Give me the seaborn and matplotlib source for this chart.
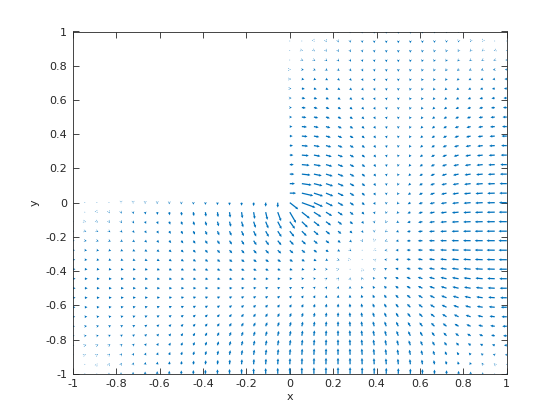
import numpy as np
import matplotlib
matplotlib.use("Agg")
import matplotlib.pyplot as plt
import seaborn as sns

# ---- data description -------------------------------------------------
# grid of arrow tails (37 x 37, spacing 1/18) on [-1, 1]^2
grid_min, grid_max, grid_n = -1.0, 1.0, 37
# field: gradient of the first eigenmode of the L-shaped membrane
# (upper-left quadrant removed), solved on a 2x finer grid
refine = 2
tick_values = [-1, -0.8, -0.6, -0.4, -0.2, 0, 0.2, 0.4, 0.6, 0.8, 1]
tick_labels = ["-1", "-0.8", "-0.6", "-0.4", "-0.2", "0", "0.2", "0.4", "0.6", "0.8", "1"]
x_label = "x"
y_label = "y"
arrow_color = "#0072BD"
autoscale_factor = 0.9

# ---- first eigenmode on the L-shaped domain (finite differences) ------
nf = (grid_n - 1) * refine + 1
xf = np.linspace(grid_min, grid_max, nf)
XF, YF = np.meshgrid(xf, xf)
inside = (np.abs(XF) < 1 - 1e-9) & (np.abs(YF) < 1 - 1e-9) & ~((XF < 1e-9) & (YF > -1e-9))
idx = -np.ones(XF.shape, dtype=int)
idx[inside] = np.arange(inside.sum())
n = inside.sum()
A = np.zeros((n, n))
rows, cols = np.nonzero(inside)
for k, (r, c) in enumerate(zip(rows, cols)):
    A[k, k] = 4.0
    for dr, dc in ((1, 0), (-1, 0), (0, 1), (0, -1)):
        j = idx[r + dr, c + dc]
        if j >= 0:
            A[k, j] = -1.0
Ainv = np.linalg.inv(A)
v = np.ones(n)
for _ in range(60):
    v = Ainv @ v
    v /= np.linalg.norm(v)
ZF = np.zeros(XF.shape)
ZF[inside] = np.abs(v)

xs = xf[::refine]
X, Y = np.meshgrid(xs, xs)
Z = ZF[::refine, ::refine]
h = xs[1] - xs[0]
V, U = np.gradient(Z, h, h)

# MATLAB style autoscale (longest arrow = 0.9 of the mean cell diagonal)
cell = (grid_max - grid_min) / grid_n
maxlen = np.max(np.sqrt((U ** 2 + V ** 2) / (2 * cell ** 2)))
s = autoscale_factor / maxlen
U = U * s
V = V * s

keep = ~((X < -1e-9) & (Y > 1e-9))

# ---- drawing ----------------------------------------------------------
sns.set_style("white")
plt.rcParams["font.family"] = ["DejaVu Sans"]
plt.rcParams["axes.unicode_minus"] = False

fig = plt.figure(figsize=(5.6, 4.2), dpi=100)
ax = fig.add_axes([0.13, 0.11, 0.775, 0.815])
ax.quiver(X[keep], Y[keep], U[keep], V[keep], angles="xy", scale_units="xy", scale=1,
          color=arrow_color, width=0.0029, headwidth=2.2, headlength=2.2,
          headaxislength=2.0, minshaft=0.3, minlength=0.6, pivot="tail")

ax.set_xlim(-1, 1)
ax.set_ylim(-1, 1)
ax.set_xticks(tick_values)
ax.set_xticklabels(tick_labels)
ax.set_yticks(tick_values)
ax.set_yticklabels(tick_labels)
edge = "#262626"
for sp in ax.spines.values():
    sp.set_visible(True)
    sp.set_color(edge)
    sp.set_linewidth(0.6)
ax.tick_params(direction="in", length=4, width=0.6, colors=edge, labelsize=8,
               top=True, right=True, bottom=True, left=True, pad=4)
ax.set_xlabel(x_label, fontsize=8, color=edge, labelpad=2)
ax.set_ylabel(y_label, fontsize=8, color=edge, labelpad=4)
ax.grid(False)
fig.savefig("out.png", dpi=100, facecolor="white")
